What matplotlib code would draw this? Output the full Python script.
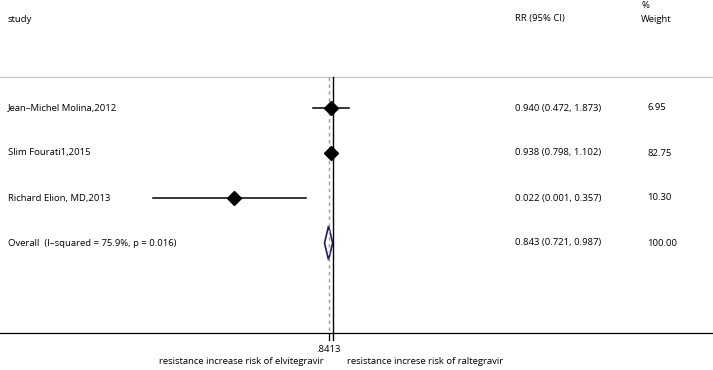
import numpy as np
import matplotlib
matplotlib.use("Agg")
from matplotlib import pyplot as plt
from matplotlib.patches import Polygon
from matplotlib.transforms import blended_transform_factory

studies = ["Jean\u2013Michel Molina,2012", "Slim Fourati1,2015", "Richard Elion, MD,2013"]
rr = [0.940, 0.938, 0.022]
lo = [0.472, 0.798, 0.001]
hi = [1.873, 1.102, 0.357]
weights = ["6.95", "82.75", "10.30"]

overall_label = "Overall  (I\u2013squared = 75.9%, p = 0.016)"
overall_rr = 0.843
overall_lo = 0.721
overall_hi = 0.987
overall_weight = "100.00"
tick_value = 0.8413
tick_label = ".8413"

left_label = "resistance increase risk of elvitegravir"
right_label = "resistance increse risk of raltegravir"

plt.rcParams['font.family'] = ['Open Sans', 'DejaVu Sans']
FS = 6.8

W, H = 713, 370
K = 26.0     # pixels per ln unit
X0 = 333     # pixel of RR = 1

def py(p):
    # pixel row -> row coordinate
    return (p - 108) / 45.0

def fx(p):
    return p / W

fig = plt.figure(figsize=(W / 100, H / 100), dpi=100)
ax = fig.add_axes([0, 0, 1, 1])
ax.set_xscale('log')
ax.set_xlim(np.exp(-X0 / K), np.exp((W - X0) / K))
ax.set_ylim(py(H), py(0))
ax.axis('off')

tr = blended_transform_factory(ax.transAxes, ax.transData)

# headers
ax.text(fx(8), py(19), "study", transform=tr, fontsize=FS, va='center', ha='left')
ax.text(fx(515), py(19), "RR (95% CI)", transform=tr, fontsize=FS, va='center', ha='left')
ax.text(fx(641), py(6), "%", transform=tr, fontsize=FS, va='center', ha='left')
ax.text(fx(641), py(19), "Weight", transform=tr, fontsize=FS, va='center', ha='left')

# header separator and axis line
ax.axhline(py(77), color='#c8c8c8', lw=0.9)
ax.axhline(py(333), color='black', lw=0.9)

# null line and overall line
ax.plot([1, 1], [py(77), py(340)], color='black', lw=1.0)
ax.plot([overall_rr, overall_rr], [py(77), py(333)], color='#a89494', lw=1.0,
        linestyle=(0, (2.5, 2.5)))
ax.plot([tick_value, tick_value], [py(333), py(340)], color='black', lw=0.9)

for i in range(len(studies)):
    ax.text(fx(8), i, studies[i], transform=tr, fontsize=FS, va='center', ha='left')
    ax.plot([lo[i], hi[i]], [i, i], color='black', lw=1.1)
    ax.plot(rr[i], i, marker='D', color='black', ms=7)
    ax.text(fx(515), i, "%.3f (%.3f, %.3f)" % (rr[i], lo[i], hi[i]), transform=tr,
            fontsize=FS, va='center', ha='left')
    ax.text(fx(647), i, weights[i], transform=tr, fontsize=FS, va='center', ha='left')

j = len(studies)
ax.text(fx(8), j, overall_label, transform=tr, fontsize=FS, va='center', ha='left')
dh = 17 / 45.0
ax.add_patch(Polygon([[overall_lo, j], [overall_rr, j - dh], [overall_hi, j], [overall_rr, j + dh]],
                     closed=True, fill=False, edgecolor='#1a1a6e', lw=1.2))
ax.text(fx(515), j, "%.3f (%.3f, %.3f)" % (overall_rr, overall_lo, overall_hi), transform=tr,
        fontsize=FS, va='center', ha='left')
ax.text(fx(647), j, overall_weight, transform=tr, fontsize=FS, va='center', ha='left')

# tick label and direction labels
ax.text(tick_value, py(350), tick_label, fontsize=FS, va='center', ha='center')
ax.text(np.exp(-9 / K), py(362), left_label, fontsize=FS, va='center', ha='right')
ax.text(np.exp(14 / K), py(362), right_label, fontsize=FS, va='center', ha='left')

fig.savefig("out.png", dpi=100)
